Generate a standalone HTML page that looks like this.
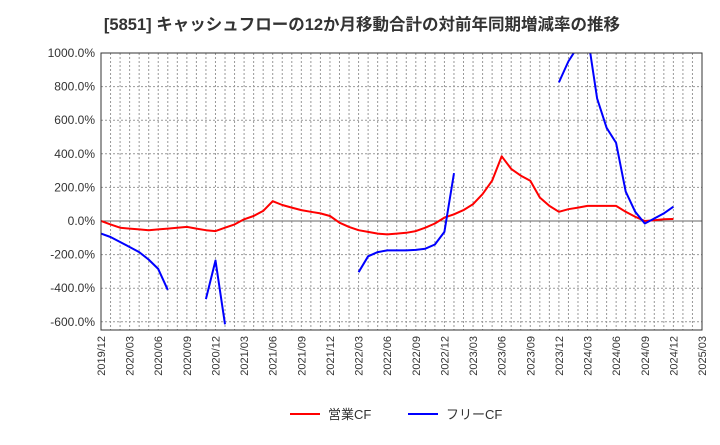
<!DOCTYPE html>
<html><head><meta charset="utf-8"><style>
body{margin:0;background:#fff;width:720px;height:440px;overflow:hidden;font-family:"Liberation Sans","Noto Sans CJK JP",sans-serif}
</style></head><body>
<svg id="c" width="720" height="440" xmlns="http://www.w3.org/2000/svg">
<text x="362" y="30" text-anchor="middle" font-size="16.5" font-weight="bold" fill="#333" font-family="Liberation Sans,Noto Sans CJK JP,sans-serif">[5851]  キャッシュフローの12か月移動合計の対前年同期増減率の推移</text>
<g id="grid"></g><g id="series"></g><g id="axes"></g>
<g>
<line x1="290" y1="414" x2="320" y2="414" stroke="#f00" stroke-width="2"/>
<text x="328" y="419" font-size="13" fill="#333">営業CF</text>
<line x1="408" y1="414" x2="438" y2="414" stroke="#00f" stroke-width="2"/>
<text x="446" y="419" font-size="13" fill="#333">フリーCF</text>
</g>
</svg>
<script>
const yTicks=[1000,800,600,400,200,0,-200,-400,-600];
const xLabels=["2019/12","2020/03","2020/06","2020/09","2020/12","2021/03","2021/06","2021/09","2021/12","2022/03","2022/06","2022/09","2022/12","2023/03","2023/06","2023/09","2023/12","2024/03","2024/06","2024/09","2024/12","2025/03"];
const opCF=[0,-20,-40,-45,-50,-55,-50,-45,-40,-35,-45,-55,-60,-40,-20,10,30,60,118,95,80,65,55,45,30,-10,-35,-55,-65,-75,-80,-75,-70,-60,-40,-15,20,40,65,100,160,240,385,310,270,240,140,90,55,70,80,90,90,90,90,55,25,0,5,10,12];
const freeCF=[-75,-95,-125,-155,-185,-230,-285,-410,null,null,null,-465,-235,-615,null,null,null,null,null,null,null,null,null,null,null,null,null,-305,-210,-185,-175,-175,-175,-172,-165,-140,-65,285,null,null,null,null,null,null,null,null,null,null,825,950,1040,1110,730,555,465,175,55,-15,15,45,85];
const L=101,R=702,T=53,B=330,NM=63;
const X=i=>L+(R-L)*i/NM;
const Y=v=>221-(221-53)*v/1000;
const ns="http://www.w3.org/2000/svg";
function mk(t,a,p){const e=document.createElementNS(ns,t);for(const k in a)e.setAttribute(k,a[k]);p.appendChild(e);return e;}
const grid=document.getElementById('grid'),axes=document.getElementById('axes'),ser=document.getElementById('series');
for(let i=1;i<NM;i++){const l=mk('line',{x1:X(i),x2:X(i),y1:T,y2:B,stroke:'#999','stroke-dasharray':'2,2','stroke-width':1},grid);

}
yTicks.forEach(v=>{const y=Y(v);
const l=mk('line',{x1:L,x2:R,y1:y,y2:y,stroke:v===0?'#666':'#999','stroke-dasharray':v===0?'':'2,2','stroke-width':1},grid);


const t=mk('text',{x:L-6,y:y+4,'text-anchor':'end','font-size':12,fill:'#333'},axes);t.textContent=v.toFixed(1)+'%';

});
xLabels.forEach((s,k)=>{const x=X(k*3);const t=mk('text',{x:x+4,y:336,'text-anchor':'end','font-size':11,fill:'#333',transform:`rotate(-90 ${x+4} 336)`},axes);t.textContent=s;

});
const fr=mk('rect',{x:L,y:T,width:R-L,height:B-T,fill:'none',stroke:'#333','stroke-width':1},axes);


mk('clipPath',{id:'cp'},ser);mk('rect',{x:L,y:T,width:R-L,height:B-T},ser.lastChild);
function draw(data,color,name){let d='',pen=false;data.forEach((v,i)=>{if(v===null){pen=false;return;}d+=(pen?'L':'M')+X(i).toFixed(1)+' '+Y(v).toFixed(1)+' ';pen=true;});
const p=mk('path',{d:d,fill:'none',stroke:color,'stroke-width':2,'clip-path':'url(#cp)','stroke-linejoin':'round'},ser);

}
draw(opCF,'#f00','operating-cf-line');
draw(freeCF,'#00f','free-cf-line');
</script>
</body></html>
